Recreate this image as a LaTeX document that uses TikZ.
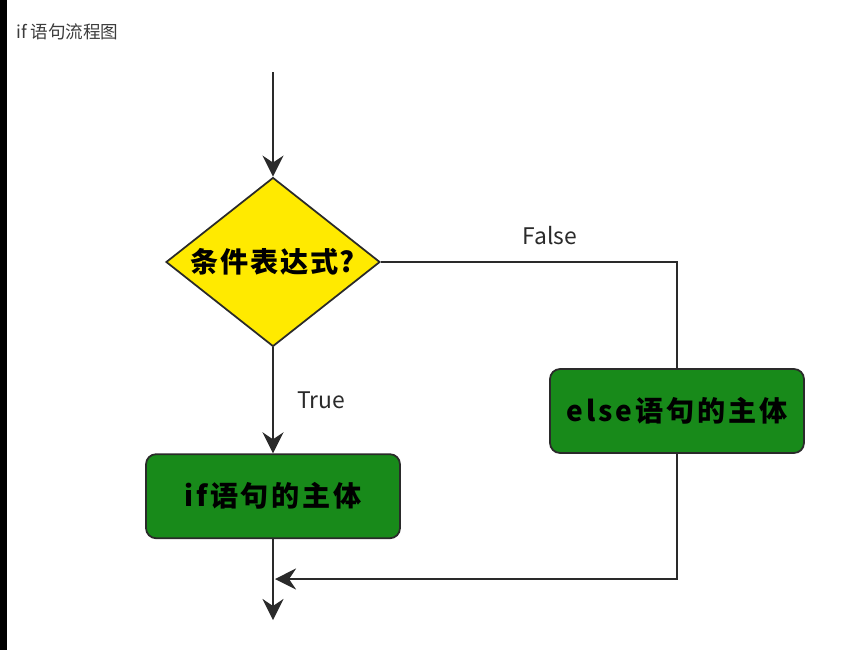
\documentclass[tikz,border=0pt]{standalone}
\usepackage{fontspec}
\setmainfont{Noto Sans CJK SC}
\usepackage{tikz}
\usetikzlibrary{positioning,shapes.geometric,arrows.meta}
\definecolor{Sun}{HTML}{FFEA00}
\definecolor{Leaf}{HTML}{188A1A}
\definecolor{Ink}{HTML}{2A2A2A}
\definecolor{Caption}{HTML}{3C3C3C}
\newcommand{\handtext}{\fontsize{16}{19}\selectfont\bfseries\addfontfeatures{LetterSpace=10}}

\begin{document}
\begin{tikzpicture}[x=0.02cm,y=-0.02cm,
    cond/.style={diamond,aspect=1.27,draw=Ink,line width=1pt,fill=Sun,inner sep=0pt,
                 minimum width=4.28cm,minimum height=3.38cm,
                 font=\fontsize{16}{19}\selectfont\bfseries\addfontfeatures{LetterSpace=6}},
    body/.style={draw=Ink,line width=1pt,rounded corners=.2cm,fill=Leaf,
                 minimum width=5.08cm,minimum height=1.68cm,font=\handtext},
    lbl/.style={font=\fontsize{13}{15}\selectfont,text=Ink},
    line/.style={Ink,line width=1.1pt},
    arr/.style={line,-{Stealth[length=12pt,width=12pt,inset=4pt]}}
  ]
    \useasboundingbox (0,0) rectangle (841,650);
    \fill[black] (0,0) rectangle (7,650);
    \node[anchor=west,text=Caption,font=\fontsize{10}{12}\selectfont] (title) at (10,32) {if 语句流程图};
    \coordinate (start) at (273,72);
    \node[cond] (cond) at (273,262) {条件表达式?};
    \node[body,below=2.12cm of cond] (ifb) {if语句的主体};
    \node[body] (elseb) at (677,411) {else语句的主体};
    \coordinate (join) at (275,579);
    \coordinate (stop) at (273,620);
    \draw[arr] (start) -- (cond);
    \draw[arr] (cond) -- node[lbl,right=.35cm] {True} (ifb);
    \draw[line] (cond.east) -| node[lbl,pos=.285,above=.2cm] {False} (elseb.north);
    \draw[arr] (elseb.south) |- (join);
    \draw[arr] (ifb) -- (stop);
  \end{tikzpicture}
\end{document}
